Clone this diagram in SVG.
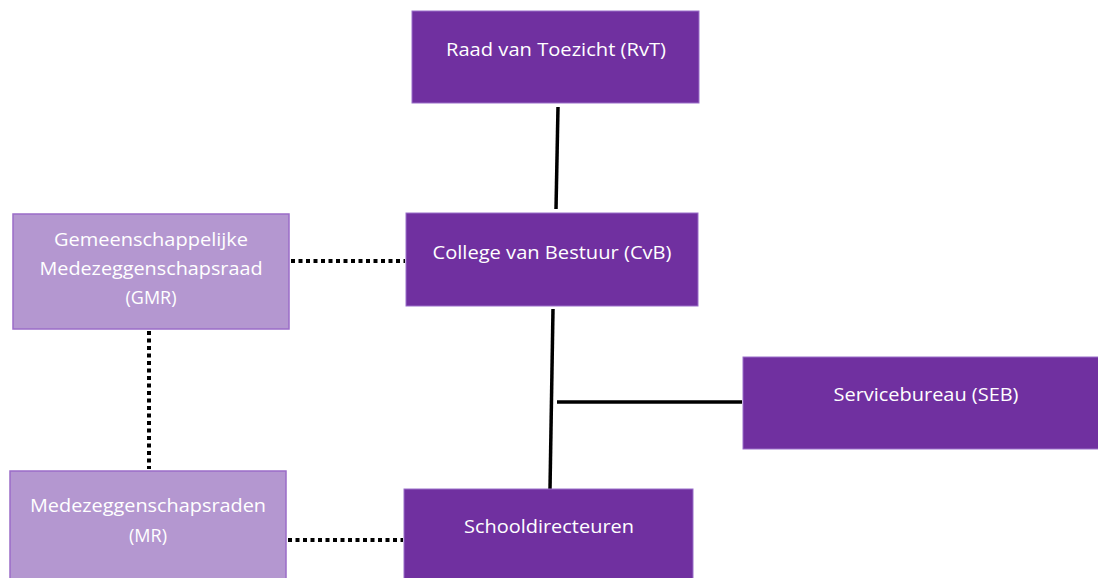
<svg xmlns="http://www.w3.org/2000/svg" width="1098" height="578" viewBox="0 0 1098 578">
<style>
.dark{fill:#7030a0;stroke:#9a6fc9;stroke-width:1}
.light{fill:#b497d0;stroke:#9b6cc8;stroke-width:1.5}
.t{font-family:"Open Sans","Liberation Sans",sans-serif;font-size:18px;fill:#ffffff;text-anchor:middle}
.solid{stroke:#000;stroke-width:3.5;fill:none}
.dot{stroke:#000;stroke-width:4;fill:none;stroke-dasharray:4 3.5}
</style>
<rect width="1098" height="578" fill="#ffffff"/>
<g id="connectors">
<line class="solid" x1="558" y1="107" x2="556" y2="209"/>
<line class="solid" x1="553" y1="309" x2="550" y2="489"/>
<line class="solid" x1="557" y1="402" x2="742" y2="402"/>
<line class="dot" x1="291" y1="261" x2="405" y2="261"/>
<line class="dot" x1="149" y1="331" x2="149" y2="469"/>
<line class="dot" x1="288" y1="540" x2="403" y2="540"/>
</g>
<g id="rvt">
<rect class="dark" x="412" y="11" width="287" height="92"/>
<text class="t" x="556" y="56" textLength="220" lengthAdjust="spacingAndGlyphs">Raad van Toezicht (RvT)</text>
</g>
<g id="cvb">
<rect class="dark" x="406" y="213" width="292" height="93"/>
<text class="t" x="552" y="259" textLength="239" lengthAdjust="spacingAndGlyphs">College van Bestuur (CvB)</text>
</g>
<g id="gmr">
<rect class="light" x="13" y="214" width="276" height="115"/>
<text class="t" x="151" y="246" textLength="194" lengthAdjust="spacingAndGlyphs">Gemeenschappelijke</text>
<text class="t" x="151" y="275" textLength="223" lengthAdjust="spacingAndGlyphs">Medezeggenschapsraad</text>
<text class="t" x="151" y="304">(GMR)</text>
</g>
<g id="mr">
<rect class="light" x="10" y="471" width="276" height="115"/>
<text class="t" x="148" y="512" textLength="236" lengthAdjust="spacingAndGlyphs">Medezeggenschapsraden</text>
<text class="t" x="148" y="542">(MR)</text>
</g>
<g id="schooldir">
<rect class="dark" x="404" y="489" width="289" height="100"/>
<text class="t" x="549" y="533" textLength="170" lengthAdjust="spacingAndGlyphs">Schooldirecteuren</text>
</g>
<g id="seb">
<rect class="dark" x="743" y="357" width="360" height="92"/>
<text class="t" x="926" y="401" textLength="185" lengthAdjust="spacingAndGlyphs">Servicebureau (SEB)</text>
</g>
</svg>
